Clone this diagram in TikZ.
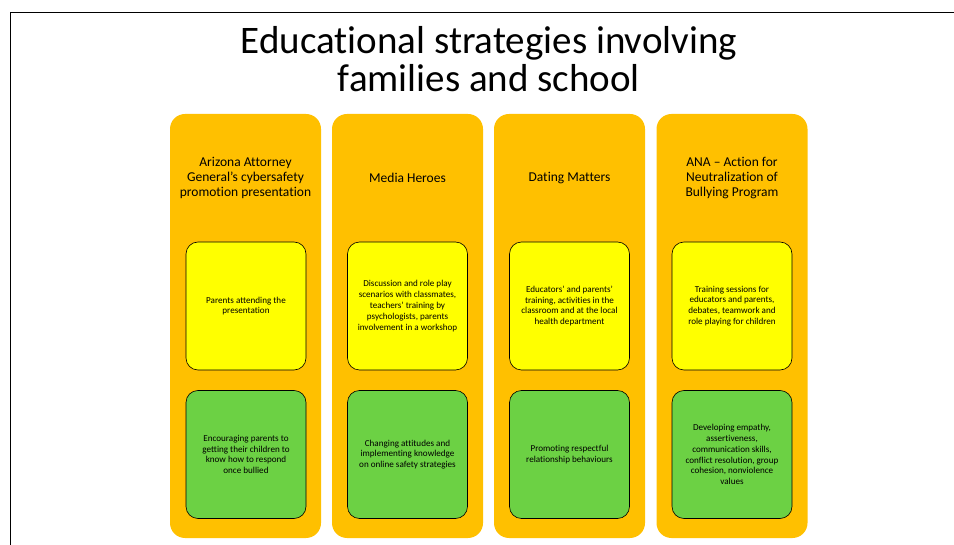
\documentclass[tikz,border=0pt]{standalone}
\usepackage{fontspec}
\setmainfont{Carlito}[Ligatures={NoCommon}]
\definecolor{colorange}{RGB}{255,192,0}
\definecolor{boxyellow}{RGB}{255,255,0}
\definecolor{boxgreen}{RGB}{108,209,68}

\begin{document}
\begin{tikzpicture}[x=1pt, y=-1pt,
    column/.style={fill=colorange, rounded corners=15pt, minimum width=151pt, minimum height=424pt, inner sep=0pt},
    heading/.style={align=center, font=\fontsize{13.5}{15}\selectfont},
    stepbox/.style={draw=black, line width=0.6pt, rounded corners=12pt, minimum width=120pt, minimum height=128pt, inner sep=2pt, align=center, font=\fontsize{9.1}{10.8}\selectfont},
    planbox/.style={stepbox, fill=boxyellow},
    goalbox/.style={stepbox, fill=boxgreen}]
  \useasboundingbox (0,0) rectangle (954,545);
  % frame
  \draw[line width=0.8pt] (10,545) -- (10,12) -- (954,12);

  \node[align=center, font=\fontsize{39}{38.5}\selectfont] (title) at (489, 59) {Educational strategies involving\\families and school};

  \node[column] (col1) at (245.5, 326) {};
  \node[column] (col2) at (407.5, 326) {};
  \node[column] (col3) at (569.5, 326) {};
  \node[column] (col4) at (732, 326)   {};

  \node[heading] (hd1) at (245.5, 178) {Arizona Attorney\\General’s cybersafety\\promotion presentation};
  \node[heading] (hd2) at (407.5, 178) {Media Heroes};
  \node[heading] (hd3) at (569.5, 178) {Dating Matters};
  \node[heading] (hd4) at (732, 178)   {ANA – Action for\\Neutralization of\\Bullying Program};

  % yellow row
  \node[planbox] (plan1) at (246, 306) {Parents attending the\\presentation};
  \node[planbox] (plan2) at (407.5, 306) {Discussion and role play\\scenarios with classmates,\\teachers’ training by\\psychologists, parents\\involvement in a workshop};
  \node[planbox] (plan3) at (569.5, 306) {Educators’ and parents’\\training, activities in the\\classroom and at the local\\health department};
  \node[planbox] (plan4) at (732, 306) {Training sessions for\\educators and parents,\\debates, teamwork and\\role playing for children};

  % green row
  \node[goalbox] (goal1) at (246, 454.5) {Encouraging parents to\\getting their children to\\know how to respond\\once bullied};
  \node[goalbox] (goal2) at (407.5, 454.5) {Changing attitudes and\\implementing knowledge\\on online safety strategies};
  \node[goalbox] (goal3) at (569.5, 454.5) {Promoting respectful\\relationship behaviours};
  \node[goalbox] (goal4) at (732, 454.5) {Developing empathy,\\assertiveness,\\communication skills,\\conflict resolution, group\\cohesion, nonviolence\\values};
\end{tikzpicture}
\end{document}
